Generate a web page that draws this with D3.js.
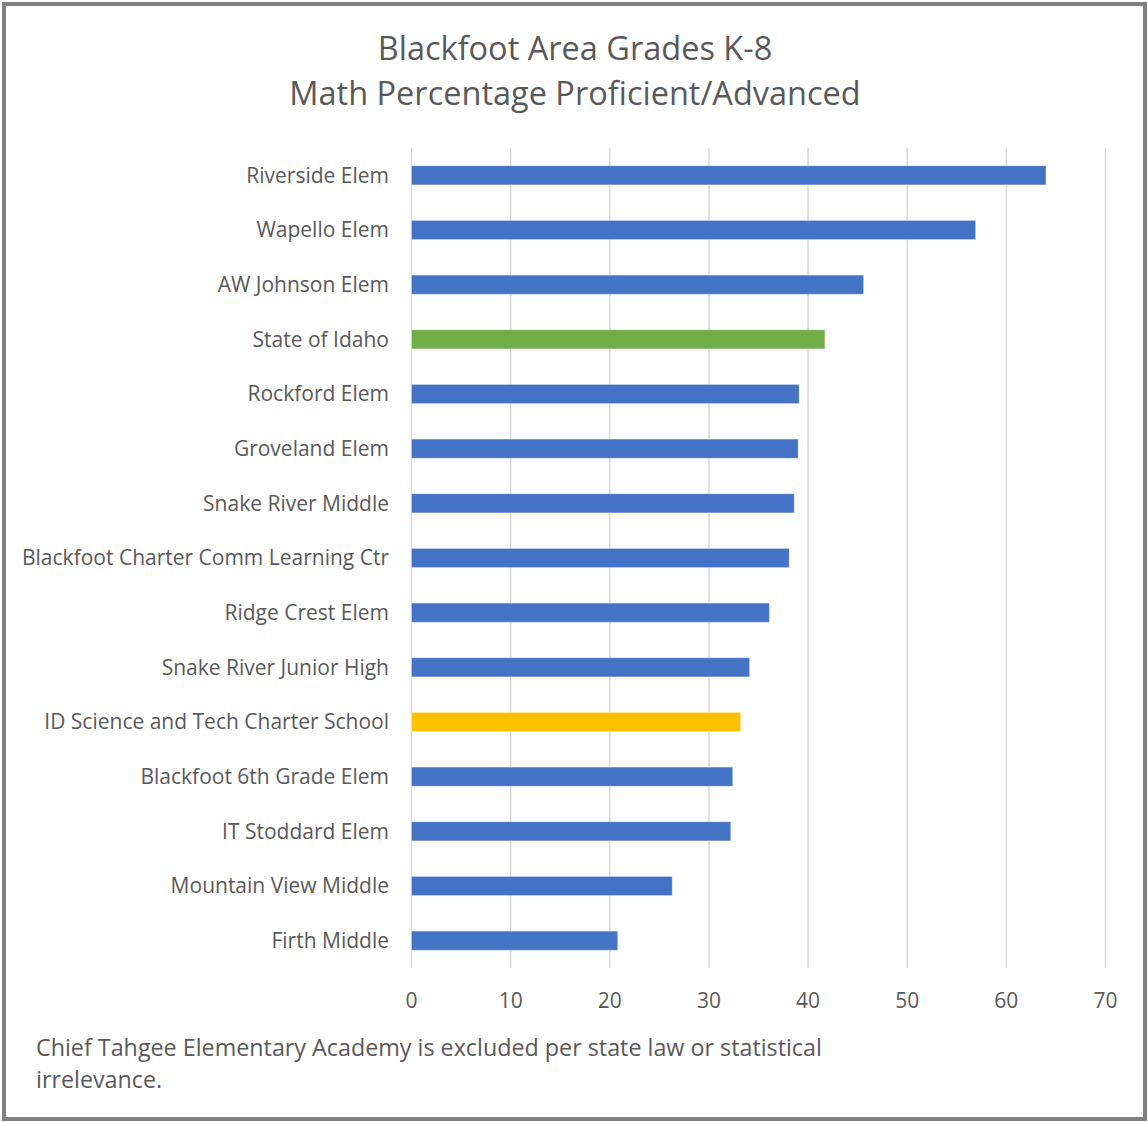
<!DOCTYPE html>
<html>
<head>
<meta charset="utf-8">
<script src="https://cdn.jsdelivr.net/npm/d3@7"></script>
<style>
  body { margin: 0; background: #fff; }
  text { font-family: 'Open Sans', 'Noto Sans', sans-serif; fill: #595959; }
</style>
</head>
<body>
<div id="container"></div>
<script>
const schools = [
  'Riverside Elem', 'Wapello Elem', 'AW Johnson Elem', 'State of Idaho', 'Rockford Elem',
  'Groveland Elem', 'Snake River Middle', 'Blackfoot Charter Comm Learning Ctr', 'Ridge Crest Elem',
  'Snake River Junior High', 'ID Science and Tech Charter School', 'Blackfoot 6th Grade Elem',
  'IT Stoddard Elem', 'Mountain View Middle', 'Firth Middle',
];
const pctProficient = [64.0, 56.9, 45.6, 41.7, 39.1, 39.0, 38.6, 38.1, 36.1, 34.1, 33.2, 32.4, 32.2, 26.3, 20.8];
const highlight = {'State of Idaho': '#70AD47', 'ID Science and Tech Charter School': '#FFC000'};
const xTicks = [0, 10, 20, 30, 40, 50, 60, 70];
const titleLines = ['Blackfoot Area Grades K-8', 'Math Percentage Proficient/Advanced'];
const noteLines = ['Chief Tahgee Elementary Academy is excluded per state law or statistical', 'irrelevance.'];

const width = 1148; const height = 1122;
const svg = d3.select('#container').append('svg')
    .attr('width', width).attr('height', height);

// outer frame
svg.append('rect').attr('x', 4).attr('y', 4).attr('width', width - 7).attr('height', height - 7)
    .attr('fill', '#fff').attr('stroke', '#808080').attr('stroke-width', 4);

const x = d3.scaleLinear().domain([0, 70]).range([411.5, 1105.5]);
const y = d3.scaleBand().domain(schools).range([148, 968]).paddingInner(0.65).paddingOuter(0.325);

// gridlines
svg.append('g').selectAll('line').data(xTicks).join('line')
    .attr('x1', (d) => x(d)).attr('x2', (d) => x(d))
    .attr('y1', 148).attr('y2', 968)
    .attr('stroke', '#d9d9d9').attr('stroke-width', 1.5);

// bars
svg.append('g').selectAll('rect').data(schools).join('rect')
    .attr('x', x(0))
    .attr('y', (d) => y(d))
    .attr('width', (d, i) => x(pctProficient[i]) - x(0))
    .attr('height', y.bandwidth())
    .attr('fill', (d) => highlight[d] || '#4472C4')
    .attr('stroke', 'rgba(255,255,255,0.35)').attr('stroke-width', 1);

// category labels
svg.append('g').selectAll('text').data(schools).join('text')
    .attr('x', 389)
    .attr('y', (d) => y(d) + y.bandwidth() / 2)
    .attr('dy', '0.35em')
    .attr('text-anchor', 'end')
    .style('font-size', '21px')
    .text((d) => d);

// x tick labels
svg.append('g').selectAll('text').data(xTicks).join('text')
    .attr('x', (d) => x(d)).attr('y', 1001)
    .attr('dy', '0.35em')
    .attr('text-anchor', 'middle')
    .style('font-size', '21px')
    .text((d) => d);

// title
svg.append('g').selectAll('text').data(titleLines).join('text')
    .attr('x', 575).attr('y', (d, i) => 60 + i * 45)
    .attr('text-anchor', 'middle')
    .style('font-size', '32.5px')
    .text((d) => d);

// footnote
svg.append('g').selectAll('text').data(noteLines).join('text')
    .attr('x', 36).attr('y', (d, i) => 1056 + i * 32)
    .style('font-size', '23.3px')
    .text((d) => d);
</script>
</body>
</html>
